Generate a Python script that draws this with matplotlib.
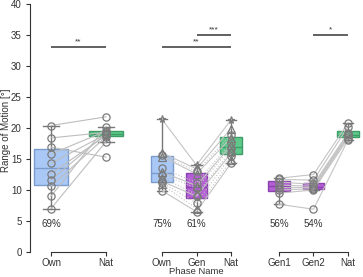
import numpy as np
import matplotlib
matplotlib.use('Agg')
import matplotlib.pyplot as plt

plt.rcParams['font.family'] = ['Liberation Sans', 'DejaVu Sans']

# group 1: Own vs Nat
g1_labels = ['Own', 'Nat']
g1_own = [20.4, 18.4, 16.9, 15.8, 14.3, 12.65, 11.6, 10.6, 9.0, 7.0]
g1_nat = [21.8, 19.3, 15.3, 19.5, 19.0, 18.8, 19.1, 18.6, 20.2, 17.8]

# group 2: Own / Gen / Nat
g2_labels = ['Own', 'Gen', 'Nat']
g2_own = [21.4, 16.0, 15.6, 15.4, 13.5, 12.9, 12.5, 12.0, 11.4, 11.2, 10.9, 9.9]
g2_gen = [14.0, 13.4, 13.0, 12.6, 11.2, 10.7, 10.3, 9.3, 9.0, 7.9, 7.0, 6.5]
g2_nat = [21.3, 19.9, 18.9, 18.4, 17.6, 17.2, 16.8, 16.3, 15.9, 15.5, 14.8, 14.3]
g2_markers = ['*', '^', 'o', '^', 'o', '^', 'o', '^', 'o', 'o', '^', 'o']
g2_dotted = [False, False, True, False, True, False, True, True, False, True, True, False]

# group 3: Gen1 / Gen2 / Nat
g3_labels = ['Gen1', 'Gen2', 'Nat']
g3_gen1 = [11.9, 11.7, 11.3, 10.8, 10.4, 10.0, 9.5, 7.7]
g3_gen2 = [12.5, 11.6, 10.9, 10.6, 10.4, 10.2, 10.0, 6.9]
g3_nat = [20.8, 20.2, 19.2, 19.0, 18.8, 18.6, 18.3, 18.1]

pct1 = ['69%']
pct2 = ['75%', '61%']
pct3 = ['56%', '54%']

BLUE = ('#a9c8f6', '#7b9bcc')
GREEN = ('#5ec98b', '#3e9d66')
PURPLE = ('#b45fd5', '#8a41ad')
TXT = '#333333'

W, H = 363, 277
fig = plt.figure(figsize=(W / 100, H / 100), dpi=100)


def px_axes(left, right, bottom=252, top=4):
    return fig.add_axes([left / W, (H - bottom) / H, (right - left) / W, (bottom - top) / H])


ax1 = px_axes(30, 128)
ax1.set_xlim(-0.382, 1.4)
ax2 = px_axes(144.75, 248.25)
ax2.set_xlim(-0.5, 2.5)
ax3 = px_axes(261.75, 363.5)
ax3.set_xlim(-0.5, 2.45)


def boxes(ax, data, colors):
    bp = ax.boxplot(data, positions=range(len(data)), widths=0.62, capwidths=0.3,
                    patch_artist=True, showfliers=False, whis=1.5,
                    whiskerprops=dict(color='#777777', lw=1.0),
                    capprops=dict(color='#777777', lw=1.0),
                    medianprops=dict(lw=1.0), zorder=1)
    for patch, med, (fc, ec) in zip(bp['boxes'], bp['medians'], colors):
        patch.set_facecolor(fc)
        patch.set_edgecolor(ec)
        patch.set_linewidth(1.0)
        med.set_color(ec)


def style(ax, labels, left=False):
    ax.set_ylim(0, 40)
    for s in ['top', 'right']:
        ax.spines[s].set_visible(False)
    ax.spines['bottom'].set_bounds(0, len(labels) - 1)
    ax.spines['bottom'].set_color(TXT)
    ax.set_xticks(range(len(labels)))
    ax.set_xticklabels(labels)
    ax.tick_params(axis='x', length=3, pad=1.2, labelsize=7, colors=TXT)
    if left:
        ax.spines['left'].set_bounds(0, 40)
        ax.spines['left'].set_color(TXT)
        ax.set_yticks(np.arange(0, 41, 5))
        ax.tick_params(axis='y', length=3, pad=3, labelsize=7, colors=TXT)
    else:
        ax.spines['left'].set_visible(False)
        ax.set_yticks([])
    ax.patch.set_alpha(0)


def sig(ax, x0, x1, y, txt):
    ax.plot([x0, x1], [y, y], color='#555555', lw=1.3, solid_capstyle='butt', zorder=4)
    ax.text((x0 + x1) / 2, y + 0.3, txt, ha='center', va='bottom', fontsize=6, color=TXT)


mk = dict(ms=5.2, mfc='none', mec='#7a7a7a', mew=0.9, zorder=3)

# group 1
boxes(ax1, [g1_own, g1_nat], [BLUE, GREEN])
for a, b in zip(g1_own, g1_nat):
    ax1.plot([0, 1], [a, b], color='#bdbdbd', lw=0.8, zorder=2)
ax1.plot(np.zeros(len(g1_own)), g1_own, 'o', ls='none', **mk)
ax1.plot(np.ones(len(g1_nat)), g1_nat, 'o', ls='none', **mk)
sig(ax1, 0, 1, 33, '**')
ax1.text(0, 4.5, pct1[0], ha='center', va='center', fontsize=7, color=TXT)
style(ax1, g1_labels, left=True)
fig.text(6 / W, 1 - 130 / H, 'Range of Motion [°]', rotation=90, ha='center', va='center',
         fontsize=7, color=TXT)

# group 2
boxes(ax2, [g2_own, g2_gen, g2_nat], [BLUE, PURPLE, GREEN])
for i in range(len(g2_own)):
    ys = [g2_own[i], g2_gen[i], g2_nat[i]]
    ax2.plot([0, 1, 2], ys, color='#c4c4c4', lw=0.8, ls=':' if g2_dotted[i] else '-', zorder=2)
    ax2.plot([0, 1, 2], ys, g2_markers[i], ls='none', **mk)
sig(ax2, 1, 2, 35, '***')
sig(ax2, 0, 2, 33, '**')
for x, t in enumerate(pct2):
    ax2.text(x, 4.5, t, ha='center', va='center', fontsize=7, color=TXT)
style(ax2, g2_labels)
fig.text(196 / W, 1 - 276 / H, 'Phase Name', ha='center', va='bottom', fontsize=6.8, color=TXT)

# group 3
boxes(ax3, [g3_gen1, g3_gen2, g3_nat], [PURPLE, PURPLE, GREEN])
for i in range(len(g3_gen1)):
    ys = [g3_gen1[i], g3_gen2[i], g3_nat[i]]
    ax3.plot([0, 1, 2], ys, color='#c4c4c4', lw=0.8, zorder=2)
    ax3.plot([0, 1, 2], ys, 'o', ls='none', **mk)
sig(ax3, 1, 2, 35, '*')
for x, t in enumerate(pct3):
    ax3.text(x, 4.5, t, ha='center', va='center', fontsize=7, color=TXT)
style(ax3, g3_labels)

fig.savefig('out.png', dpi=100)
